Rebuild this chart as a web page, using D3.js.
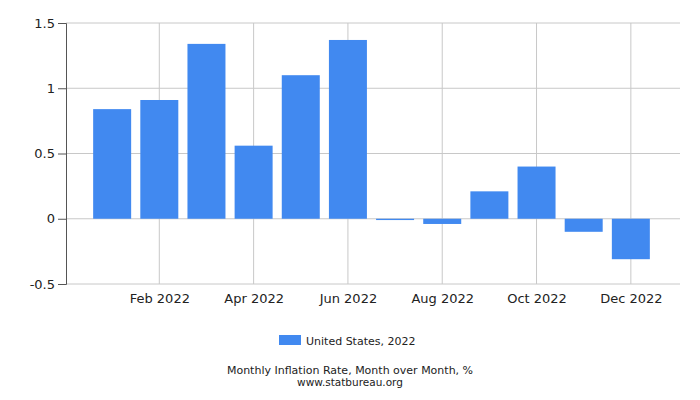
<!DOCTYPE html>
<html><head><meta charset="utf-8">
<script src="https://cdn.jsdelivr.net/npm/d3@7"></script>
<style>body{margin:0;background:#fff}text{font-family:"DejaVu Sans",sans-serif}</style>
</head><body><svg width="700" height="400"></svg>
<script>
const months = ["Jan 2022","Feb 2022","Mar 2022","Apr 2022","May 2022","Jun 2022","Jul 2022","Aug 2022","Sep 2022","Oct 2022","Nov 2022","Dec 2022"];
const values = [0.84, 0.91, 1.34, 0.56, 1.10, 1.37, -0.01, -0.04, 0.21, 0.40, -0.10, -0.31];
const yTicks = [-0.5, 0, 0.5, 1, 1.5];
const labeled = ["Feb 2022","Apr 2022","Jun 2022","Aug 2022","Oct 2022","Dec 2022"];

const svg = d3.select('svg');
const x = d3.scalePoint().domain(months).range([65, 678]).padding(1);
const y = d3.scaleLinear().domain([-0.5, 1.5]).range([284, 23]);

// grid
svg.append('g').selectAll('line').data(yTicks).join('line')
  .attr('x1', 66).attr('x2', 680).attr('y1', d => y(d)).attr('y2', d => y(d))
  .attr('stroke', '#c8c8c8');
svg.append('g').selectAll('line').data(labeled).join('line')
  .attr('x1', d => x(d)).attr('x2', d => x(d)).attr('y1', 23).attr('y2', 284)
  .attr('stroke', '#c8c8c8');

// bars
const bw = 38;
svg.append('g').selectAll('rect').data(values).join('rect')
  .attr('x', (d, i) => x(months[i]) - bw / 2)
  .attr('width', bw)
  .attr('y', d => y(Math.max(0, d)))
  .attr('height', d => Math.max(1, Math.abs(y(d) - y(0))))
  .attr('fill', '#4189f0');

// axes
const yAxis = svg.append('g').attr('transform', 'translate(66,0)')
  .call(d3.axisLeft(y).tickValues(yTicks).tickSize(8).tickFormat(d => d));
yAxis.select('.domain').attr('stroke', '#555');
yAxis.selectAll('.tick line').attr('stroke', '#555');
yAxis.selectAll('text').attr('font-size', 13).attr('fill', '#222');

const xAxis = svg.append('g').attr('transform', 'translate(0,284)')
  .call(d3.axisBottom(x).tickValues(labeled).tickSize(0).tickPadding(10));
xAxis.select('.domain').remove();
xAxis.selectAll('text').attr('font-size', 13).attr('fill', '#222');

// legend
svg.append('rect').attr('x', 279).attr('y', 335).attr('width', 22).attr('height', 10).attr('fill', '#4189f0');
svg.append('text').attr('x', 306).attr('y', 345).attr('font-size', 11).attr('fill', '#222').text('United States, 2022');

svg.append('text').attr('x', 350).attr('y', 374).attr('text-anchor', 'middle').attr('font-size', 11).attr('fill', '#222')
  .text('Monthly Inflation Rate, Month over Month, %');
svg.append('text').attr('x', 350).attr('y', 385.5).attr('text-anchor', 'middle').attr('font-size', 10.5).attr('fill', '#222')
  .text('www.statbureau.org');
</script></body></html>
